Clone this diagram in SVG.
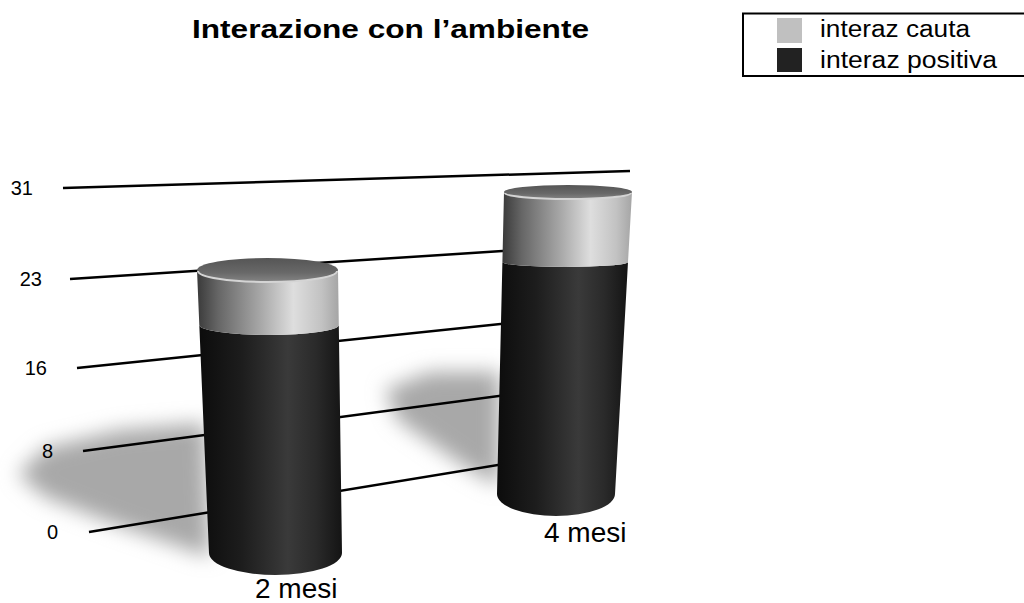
<svg xmlns="http://www.w3.org/2000/svg" width="1024" height="603" viewBox="0 0 1024 603">
  <defs>
    <style>
      text { font-family: "Liberation Sans", Arial, sans-serif; fill: #000; }
      .grid { stroke: #000; stroke-width: 2.5; stroke-linecap: butt; fill: none; }
      .ylab { font-size: 20px; text-anchor: end; }
      .cat { font-size: 28px; }
      .leg { font-size: 23px; }
      .rim { fill: none; stroke: #d4d4d4; stroke-width: 2; }
    </style>
    <linearGradient id="gDark" x1="0" y1="0" x2="1" y2="0">
      <stop offset="0" stop-color="#0c0c0c"/>
      <stop offset="0.3" stop-color="#1d1d1d"/>
      <stop offset="0.62" stop-color="#3a3a3a"/>
      <stop offset="0.82" stop-color="#2a2a2a"/>
      <stop offset="1" stop-color="#141414"/>
    </linearGradient>
    <linearGradient id="gLight" x1="0" y1="0" x2="1" y2="0">
      <stop offset="0" stop-color="#3a3a3a"/>
      <stop offset="0.15" stop-color="#666"/>
      <stop offset="0.45" stop-color="#a8a8a8"/>
      <stop offset="0.68" stop-color="#dedede"/>
      <stop offset="0.88" stop-color="#c2c2c2"/>
      <stop offset="1" stop-color="#a5a5a5"/>
    </linearGradient>
    <linearGradient id="gTop" x1="0" y1="0" x2="0" y2="1">
      <stop offset="0" stop-color="#555"/>
      <stop offset="0.6" stop-color="#686868"/>
      <stop offset="1" stop-color="#848484"/>
    </linearGradient>
    <filter id="blurS" x="-50%" y="-50%" width="200%" height="200%">
      <feGaussianBlur stdDeviation="10"/>
    </filter>
  </defs>

  <rect width="1024" height="603" fill="#fff"/>

  <g id="title">
    <text x="192" y="38" font-size="25" font-weight="bold" textLength="397" lengthAdjust="spacingAndGlyphs">Interazione con l’ambiente</text>
  </g>

  <g id="legend">
    <rect x="743" y="13.5" width="300" height="62.5" fill="#fff" stroke="#000" stroke-width="2"/>
    <rect x="777" y="18" width="25" height="25" fill="#c0c0c0"/>
    <rect x="777" y="48" width="25" height="24" fill="#222"/>
    <text class="leg" x="820" y="37" textLength="150" lengthAdjust="spacingAndGlyphs">interaz cauta</text>
    <text class="leg" x="820" y="68" textLength="177" lengthAdjust="spacingAndGlyphs">interaz positiva</text>
  </g>

  <g id="shadows" fill="#a8a8a8" filter="url(#blurS)">
    <path d="M205,423 L120,430 L45,448 L18,474 L45,497 L120,526 L210,557 Z"/>
    <path d="M500,372 L430,372 L385,390 L398,420 L470,470 L500,486 Z"/>
  </g>

  <g id="axis">
    <line class="grid" x1="63" y1="188" x2="630" y2="171"/>
    <line class="grid" x1="70" y1="279" x2="590" y2="245.4"/>
    <line class="grid" x1="77" y1="368" x2="590" y2="314.8"/>
    <line class="grid" x1="83" y1="451" x2="590" y2="384"/>
    <line class="grid" x1="89" y1="532" x2="590" y2="449.8"/>
    <text class="ylab" x="33" y="195">31</text>
    <text class="ylab" x="42" y="286">23</text>
    <text class="ylab" x="47" y="375">16</text>
    <text class="ylab" x="53" y="458">8</text>
    <text class="ylab" x="58" y="539">0</text>
  </g>

  <g id="bar-2mesi">
    <path fill="url(#gDark)" d="M199.3,325 L209,553 A66.5,22 0 0 0 342,553 L338.8,325 A69.75,10 0 0 1 199.3,325 Z"/>
    <path fill="url(#gLight)" d="M197,270 L199.3,325 A69.75,10 0 0 0 338.8,325 L338,270 A70.5,12 0 0 1 197,270 Z"/>
    <ellipse cx="267.5" cy="270" rx="70.5" ry="12" fill="url(#gTop)"/>
    <path class="rim" d="M198,271 A69.5,11 0 0 0 337,271"/>
    <text class="cat" x="255" y="598">2 mesi</text>
  </g>

  <g id="bar-4mesi">
    <path fill="url(#gDark)" d="M502.4,262 L497,494 A59,22 0 0 0 615,494 L628,262 A62.8,5 0 0 1 502.4,262 Z"/>
    <path fill="url(#gLight)" d="M504,192 L502.4,262 A62.8,5 0 0 0 628,262 L632,192 A64,7 0 0 1 504,192 Z"/>
    <ellipse cx="568" cy="192" rx="64" ry="7" fill="url(#gTop)"/>
    <path class="rim" d="M505,193 A63,6 0 0 0 631,193"/>
    <text class="cat" x="544" y="542">4 mesi</text>
  </g>
</svg>
